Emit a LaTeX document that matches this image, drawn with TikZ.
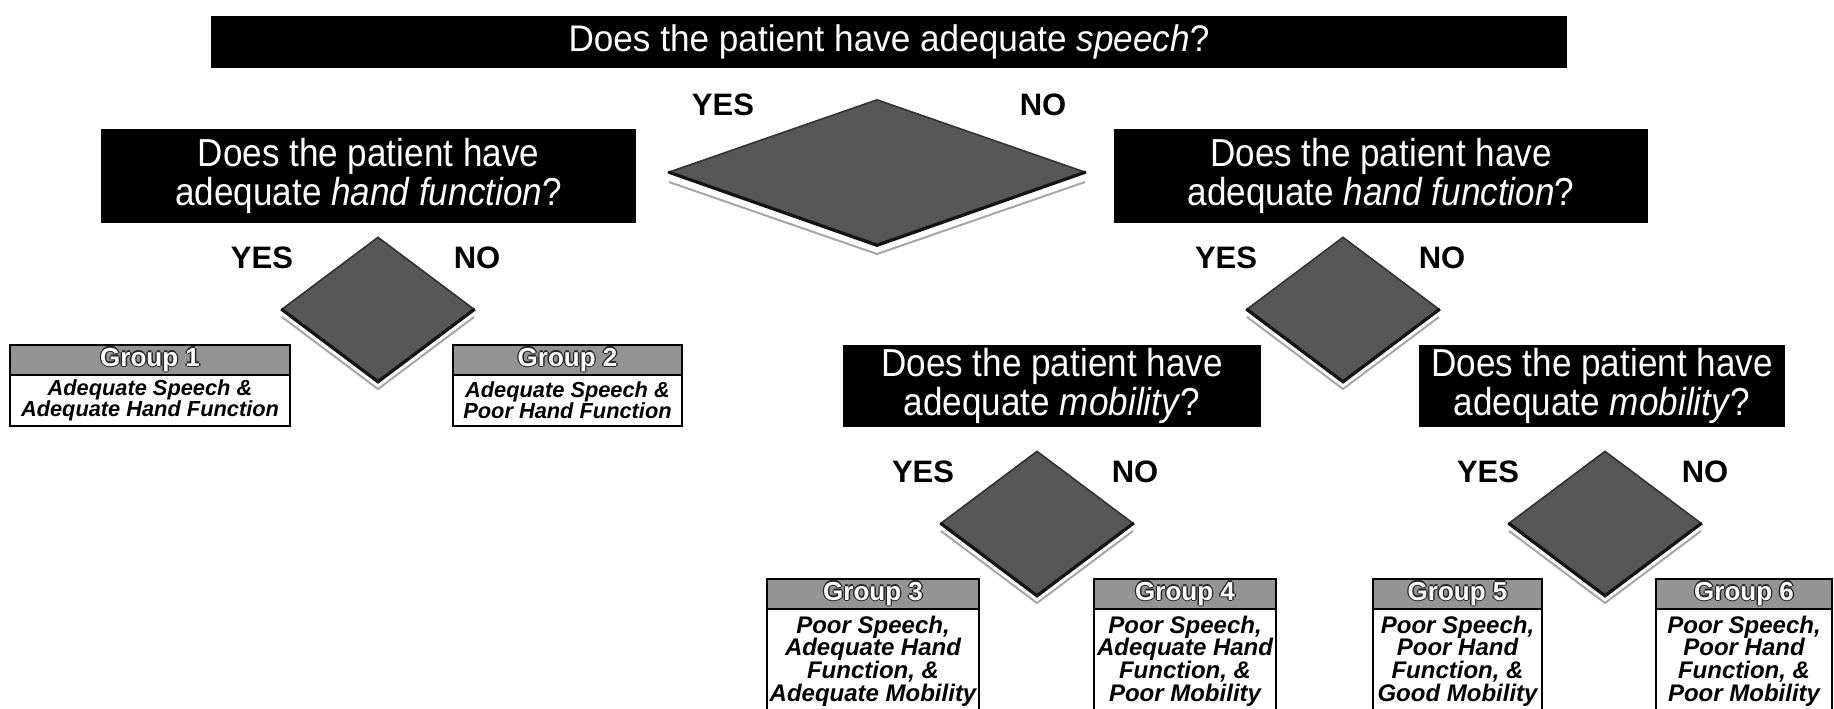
\documentclass[tikz,border=0pt]{standalone}
\usepackage{fontspec}
\setmainfont{Liberation Sans}
\newfontfamily\qfont[FakeStretch=0.9]{Liberation Sans}
\newfontfamily\bannerfont[FakeStretch=0.95]{Liberation Sans}
\usetikzlibrary{shapes.geometric}
\newcommand\grouplabel[1]{{\setbox0=\hbox{#1}%
 \color{black!85}\rlap{\kern-0.7pt\copy0}\rlap{\kern0.7pt\copy0}\rlap{\raise0.7pt\copy0}\rlap{\lower0.7pt\copy0}%
 \color{white}\box0}}
\begin{document}
\begin{tikzpicture}[x=0.5pt,y=-0.5pt,
  qbox/.style={fill=black, text=white, inner sep=0pt, align=center, font=\qfont\fontsize{19.5}{15.5}\selectfont},
  yn/.style={font=\bfseries\fontsize{15.5}{18}\selectfont, inner sep=0pt},
  dia/.style={diamond, inner sep=0pt, fill=black!66, draw=black!80, line width=0.8pt},
  diaedge/.style={draw=black!92, line width=1.6pt, line join=miter},
  shadowline/.style={draw=black!35, line width=1pt},
  ghead/.style={fill=black!42, draw=black, line width=0.8pt, inner sep=0pt, minimum height=15pt, font=\bfseries\fontsize{13}{13}\selectfont},
  gbody/.style={fill=white, draw=black, line width=0.8pt, inner sep=0pt, align=center},
  gtextS/.style={font=\bfseries\itshape\fontsize{10.9}{10.5}\selectfont},
  gtextL/.style={font=\bfseries\itshape\fontsize{12}{11.35}\selectfont},
]
\useasboundingbox[fill=white] (0,0) rectangle (1834,708);

% top banner
\node[qbox, font=\bannerfont\fontsize{18.5}{20}\selectfont, minimum width=678pt, minimum height=26pt] (q0) at (889,42) {Does the patient have adequate \textit{speech}?};

% central diamond
\draw[shadowline] ([yshift=-5pt]877-208,172) -- ([yshift=-5pt]877,244) -- ([yshift=-5pt]877+208,172);
\node[dia, minimum width=208pt, minimum height=72.5pt] (d0) at (877,172) {};
\draw[diaedge] (d0.west) -- (d0.south) -- (d0.east);
\node[yn] (y0) at (723,105) {YES};
\node[yn] (n0) at (1043,105) {NO};

% hand function boxes
\node[qbox, minimum width=267.5pt, minimum height=47pt] (qh1) at (368.5,176) {Does the patient have\\adequate \textit{hand function}?};
\node[qbox, minimum width=267pt, minimum height=47pt] (qh2) at (1381,176) {Does the patient have\\adequate \textit{hand function}?};

% small diamonds
\foreach \n/\cx/\cy in {d1/378/309, d2/1343/309, d3/1037/523, d4/1605/523}{
  \draw[shadowline] ([yshift=-4pt]\cx-96,\cy) -- ([yshift=-4pt]\cx,\cy+72) -- ([yshift=-4pt]\cx+96,\cy);
  \node[dia, minimum width=96pt, minimum height=72pt] (\n) at (\cx,\cy) {};
  \draw[diaedge] (\n.west) -- (\n.south) -- (\n.east);
}
\node[yn] (y1) at (262,258) {YES};
\node[yn] (n1) at (477,258) {NO};
\node[yn] (y2) at (1226,258) {YES};
\node[yn] (n2) at (1442,258) {NO};
\node[yn] (y3) at (923,472) {YES};
\node[yn] (n3) at (1135,472) {NO};
\node[yn] (y4) at (1488,472) {YES};
\node[yn] (n4) at (1705,472) {NO};

% mobility boxes
\node[qbox, minimum width=209pt, minimum height=41pt] (qm1) at (1052,386) {Does the patient have\\adequate \textit{mobility}?};
\node[qbox, minimum width=183pt, minimum height=41pt] (qm2) at (1602,386) {Does the patient have\\adequate \textit{mobility}?};

% groups 1 and 2
\node[ghead, minimum width=140pt] (g1h) at (150,360) {\grouplabel{Group 1}};
\node[gbody, gtextS, minimum width=140pt, minimum height=25.5pt] (g1b) at (150,400.5) {Adequate Speech \&\\Adequate Hand Function};
\node[ghead, minimum width=114.5pt] (g2h) at (567.5,360) {\grouplabel{Group 2}};
\node[gbody, gtextS, minimum width=114.5pt, minimum height=25.5pt] (g2b) at (567.5,400.5) {Adequate Speech \&\\Poor Hand Function};

% groups 3 to 6
\node[ghead, minimum width=106pt] (g3h) at (873,594) {\grouplabel{Group 3}};
\node[gbody, gtextL, minimum width=106pt, minimum height=52pt] (g3b) at (873,661) {Poor Speech,\\Adequate Hand\\Function, \&\\Adequate Mobility};
\node[ghead, minimum width=91pt] (g4h) at (1185,594) {\grouplabel{Group 4}};
\node[gbody, gtextL, minimum width=91pt, minimum height=52pt] (g4b) at (1185,661) {Poor Speech,\\Adequate Hand\\Function, \&\\Poor Mobility};
\node[ghead, minimum width=84.5pt] (g5h) at (1457.5,594) {\grouplabel{Group 5}};
\node[gbody, gtextL, minimum width=84.5pt, minimum height=52pt] (g5b) at (1457.5,661) {Poor Speech,\\Poor Hand\\Function, \&\\Good Mobility};
\node[ghead, minimum width=88pt] (g6h) at (1744,594) {\grouplabel{Group 6}};
\node[gbody, gtextL, minimum width=88pt, minimum height=52pt] (g6b) at (1744,661) {Poor Speech,\\Poor Hand\\Function, \&\\Poor Mobility};
\end{tikzpicture}
\end{document}
